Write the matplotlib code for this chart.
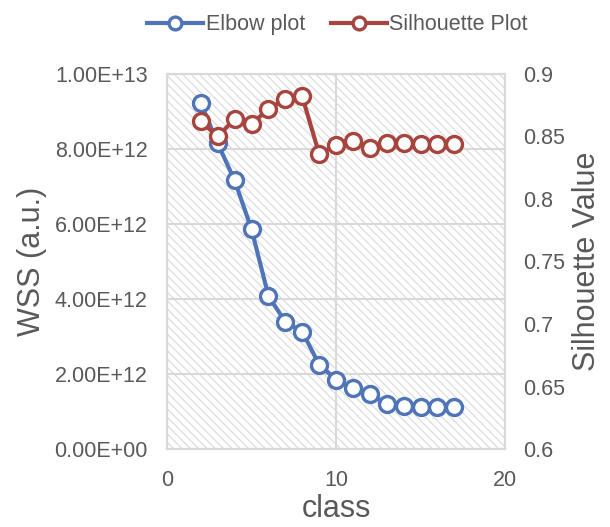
import matplotlib
matplotlib.use("Agg")
import matplotlib.pyplot as plt
from matplotlib.patches import Rectangle
from matplotlib.ticker import FuncFormatter

plt.rcParams['font.family'] = ['Liberation Sans', 'DejaVu Sans']
plt.rcParams['hatch.color'] = '#d4d4d4'
plt.rcParams['hatch.linewidth'] = 0.8

# данные
classes = [2, 3, 4, 5, 6, 7, 8, 9, 10, 11, 12, 13, 14, 15, 16, 17]
wss = [9.22e12, 8.15e12, 7.16e12, 5.86e12, 4.08e12, 3.39e12, 3.13e12, 2.25e12,
       1.85e12, 1.62e12, 1.46e12, 1.20e12, 1.15e12, 1.12e12, 1.12e12, 1.11e12]
silhouette = [0.862, 0.850, 0.864, 0.860, 0.872, 0.880, 0.882, 0.836,
              0.843, 0.846, 0.841, 0.845, 0.845, 0.844, 0.844, 0.844]

blue = '#4f74b8'
red = '#a8443e'
grey = '#595959'
gridc = '#d9d9d9'

fig = plt.figure(figsize=(6.1, 5.27), dpi=100)
ax = fig.add_axes([0.2738, 0.148, 0.5542, 0.7116])
ax2 = ax.twinx()

# штриховка фона
ax.add_patch(Rectangle((0, 0), 1, 1, transform=ax.transAxes, facecolor='white',
                       edgecolor=gridc, hatch='\\\\\\\\', linewidth=0, zorder=0))

ax.set_xlim(0, 20)
ax.set_ylim(0, 1e13)
ax2.set_ylim(0.6, 0.9)
ax.set_xticks([0, 10, 20])
ax.set_yticks([0, 2e12, 4e12, 6e12, 8e12, 1e13])
ax2.set_yticks([0.6, 0.65, 0.7, 0.75, 0.8, 0.85, 0.9])
ax.yaxis.set_major_formatter(FuncFormatter(lambda v, p: "%.2E" % v))
ax2.yaxis.set_major_formatter(FuncFormatter(lambda v, p: "%g" % v))

ax.grid(True, color=gridc, linewidth=1.5, zorder=1)
ax.set_axisbelow(True)
for a in (ax, ax2):
    for s in a.spines.values():
        s.set_color(gridc)
        s.set_linewidth(1.5)
    a.tick_params(length=0, labelsize=15.5, labelcolor=grey)
ax.tick_params(axis='x', pad=15)
ax.tick_params(axis='y', pad=14)
ax2.tick_params(axis='y', pad=13)

l1, = ax.plot(classes, wss, color=blue, lw=3, marker='o', ms=11.5,
              mfc='white', mec=blue, mew=2.4, label='Elbow plot', zorder=3)
l2, = ax2.plot(classes, silhouette, color=red, lw=3, marker='o', ms=11.5,
               mfc='white', mec=red, mew=2.4, label='Silhouette Plot', zorder=3)

ax.set_xlabel('class', fontsize=22, color=grey, labelpad=2)
ax.set_ylabel('WSS (a.u.)', fontsize=22, color=grey, labelpad=5)
ax2.set_ylabel('Silhouette Value', fontsize=22, color=grey, labelpad=5)

fig.legend(handles=[l1, l2], loc='upper center', bbox_to_anchor=(0.553, 1.01),
           ncol=2, frameon=False, fontsize=15.5, labelcolor=grey, markerscale=0.8,
           handlelength=2.6, columnspacing=1.2, handletextpad=0.1)

fig.savefig("out.png", dpi=100)
